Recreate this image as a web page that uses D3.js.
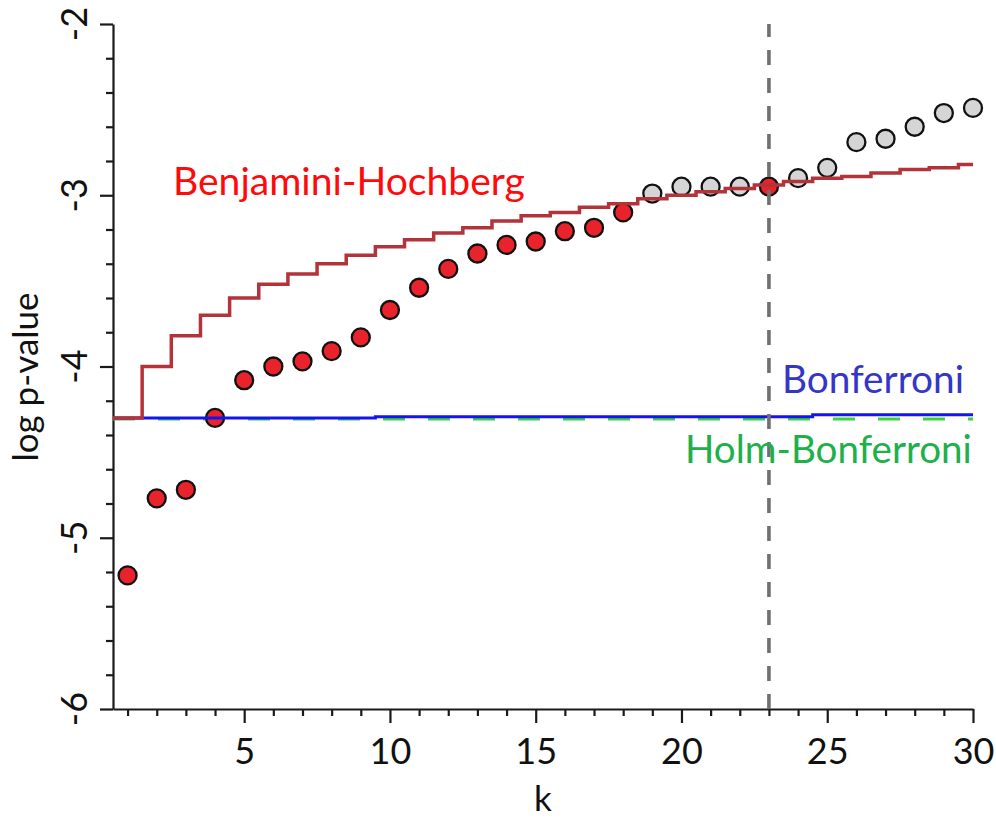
<!DOCTYPE html>
<html>
<head>
<meta charset="utf-8">
<script src="https://cdn.jsdelivr.net/npm/d3@7"></script>
<style>
  body { margin: 0; background: #fff; }
  text { font-family: Lato, "Open Sans", sans-serif; }
</style>
</head>
<body>
<svg id="chart"></svg>
<script>
// chart data
const ks = [1,2,3,4,5,6,7,8,9,10,11,12,13,14,15,16,17,18,19,20,21,22,23,24,25,26,27,28,29,30];
const logP = [-5.22,-4.77,-4.72,-4.30,-4.08,-4.00,-3.97,-3.91,-3.83,-3.67,-3.54,-3.43,-3.34,-3.29,-3.27,
              -3.21,-3.19,-3.10,-2.99,-2.95,-2.95,-2.95,-2.95,-2.90,-2.84,-2.69,-2.67,-2.60,-2.52,-2.49];
const rejected = [1,1,1,1,1,1,1,1,1,1,1,1,1,1,1,1,1,1,0,0,0,0,1,0,0,0,0,0,0,0];
const bhLine = [-4.30,-4.00,-3.82,-3.70,-3.60,-3.52,-3.46,-3.40,-3.35,-3.30,-3.26,-3.22,-3.19,-3.15,-3.12,
                -3.10,-3.07,-3.05,-3.02,-3.00,-2.98,-2.96,-2.94,-2.92,-2.90,-2.89,-2.87,-2.85,-2.84,-2.82];
const bonfLine = [-4.301,-4.301,-4.301,-4.301,-4.301,-4.301,-4.301,-4.301,-4.301,-4.293,-4.293,-4.293,-4.293,-4.293,-4.293,
                  -4.293,-4.293,-4.293,-4.293,-4.293,-4.293,-4.293,-4.293,-4.293,-4.282,-4.282,-4.282,-4.282,-4.282,-4.282];
const holmLine = [-4.307,-4.307,-4.307,-4.307,-4.307,-4.307,-4.307,-4.307,-4.307,-4.307,-4.307,-4.307,-4.307,-4.307,-4.307,
                  -4.307,-4.307,-4.307,-4.307,-4.307,-4.307,-4.307,-4.307,-4.307,-4.307,-4.307,-4.307,-4.307,-4.307,-4.307];
const cutoffK = 23;
const xMajor = [5,10,15,20,25,30];
const yMajor = [-6,-5,-4,-3,-2];

const width = 996, height = 818;
const svg = d3.select("#chart").attr("width", width).attr("height", height);

const x = d3.scaleLinear().domain([0.5, 30]).range([113, 973]);
const y = d3.scaleLinear().domain([-6, -2]).range([709, 24]);

// axes
const xMinor = ks.filter(d => d % 5 !== 0);
const yMinor = d3.range(0, 21).map(i => -6 + i * 0.2).filter(d => Math.abs(d - Math.round(d)) > 0.01);

function styleAxis(g) {
  g.selectAll("path, line").attr("stroke", "#1a1a1a").attr("stroke-width", 2.2);
}

svg.append("g").attr("transform", `translate(0,${y(-6)})`)
  .call(d3.axisBottom(x).tickValues(xMinor).tickSize(7).tickSizeOuter(0).tickFormat(""))
  .call(styleAxis);
const xAx = svg.append("g").attr("transform", `translate(0,${y(-6)})`)
  .call(d3.axisBottom(x).tickValues(xMajor).tickSize(14).tickSizeOuter(0).tickPadding(15))
  .call(styleAxis);
xAx.selectAll("text").attr("fill", "#111").style("font-size", "36px").style("font-family", "Lato");
xAx.select(".domain").remove();

svg.append("g").attr("transform", `translate(${x(0.5)},0)`)
  .call(d3.axisLeft(y).tickValues(yMinor).tickSize(7).tickSizeOuter(0).tickFormat(""))
  .call(styleAxis);
const yAx = svg.append("g").attr("transform", `translate(${x(0.5)},0)`)
  .call(d3.axisLeft(y).tickValues(yMajor).tickSize(13).tickSizeOuter(0).tickFormat(""))
  .call(styleAxis);
yAx.select(".domain").remove();

svg.selectAll(".ylab").data(yMajor).enter().append("text")
  .attr("class", "ylab")
  .attr("transform", d => `translate(87,${y(d)}) rotate(-90)`)
  .attr("text-anchor", "middle")
  .attr("fill", "#111")
  .style("font-size", "36px")
  .text(d => d);

// axis titles
svg.append("text").attr("x", (x(0.5) + x(30)) / 2).attr("y", 811)
  .attr("text-anchor", "middle").attr("fill", "#111").style("font-size", "35px").text("k");
svg.append("text").attr("transform", "translate(38,377) rotate(-90)")
  .attr("text-anchor", "middle").attr("fill", "#111").style("font-size", "35px").text("log p-value");

// step lines: each k holds from k-0.5 to k+0.5
function stepPoints(vals) {
  const pts = vals.map((v, i) => [Math.max(ks[i] - 0.5, 0.5), v]);
  pts.push([30, vals[vals.length - 1]]);
  return pts;
}
const stepLine = d3.line().x(d => x(d[0])).y(d => y(d[1])).curve(d3.curveStepAfter);

svg.append("path").attr("d", stepLine(stepPoints(holmLine)))
  .attr("fill", "none").attr("stroke", "#3ad23f").attr("stroke-width", 3)
  .attr("stroke-dasharray", "22,23");

// points
svg.selectAll(".pt").data(ks).enter().append("circle")
  .attr("class", "pt")
  .attr("cx", (d, i) => x(d))
  .attr("cy", (d, i) => y(logP[i]))
  .attr("r", 9)
  .attr("fill", (d, i) => rejected[i] ? "#e8232b" : "#d5d5d5")
  .attr("stroke", "#111").attr("stroke-width", 2.3);

svg.append("path").attr("d", stepLine(stepPoints(bonfLine)))
  .attr("fill", "none").attr("stroke", "#1414f0").attr("stroke-width", 3);

svg.append("path").attr("d", stepLine(stepPoints(bhLine)))
  .attr("fill", "none").attr("stroke", "#b3333a").attr("stroke-width", 3.5);

// cutoff
svg.append("line")
  .attr("x1", x(cutoffK)).attr("x2", x(cutoffK))
  .attr("y1", y(-6)).attr("y2", y(-2))
  .attr("stroke", "#707070").attr("stroke-width", 3.6)
  .attr("stroke-dasharray", "15,13");

// method labels
function label(txt, x0, base, w, color) {
  const t = svg.append("text").attr("x", x0).attr("y", base).attr("fill", color)
    .style("font-size", "34px").text(txt);
  const cur = t.node().getComputedTextLength();
  t.style("font-size", (34 * w / cur) + "px");
}
label("Benjamini-Hochberg", 173, 195, 352, "#ff0a0a");
label("Bonferroni", 782, 393, 182, "#3535c6");
label("Holm-Bonferroni", 685, 463, 287, "#20b04a");
</script>
</body>
</html>
